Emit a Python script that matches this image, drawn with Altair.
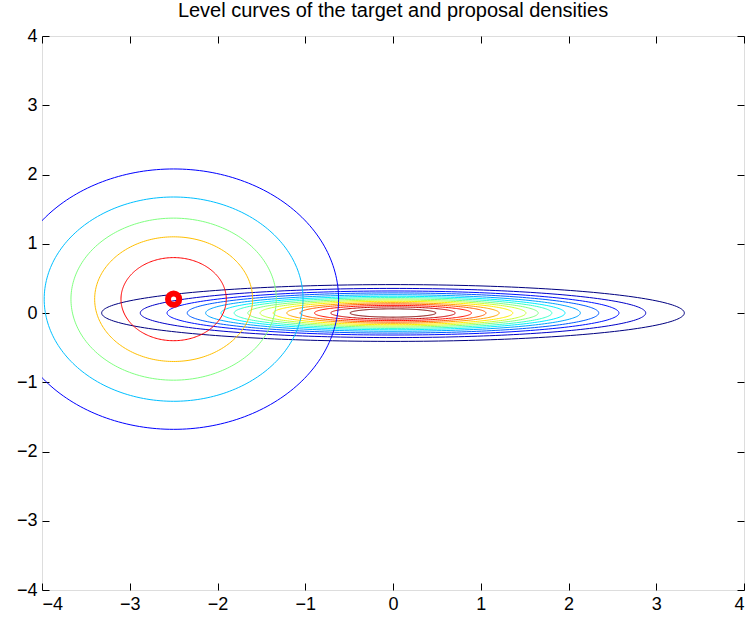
import altair as alt
import numpy as np
import pandas as pd

# ---- data ----
title_text = "Level curves of the target and proposal densities"
x_ticks = [-4, -3, -2, -1, 0, 1, 2, 3, 4]
y_ticks = [-4, -3, -2, -1, 0, 1, 2, 3, 4]

# proposal density (isotropic) level curves, outer -> inner
prop_cx, prop_cy = -2.5, 0.2
prop_radii = [1.88, 1.475, 1.17, 0.9, 0.6]
prop_cpos = [2 / 16, 5 / 16, 8 / 16, 11 / 16, 14 / 16]  # position in jet colormap

# target density level curves (elongated), outer -> inner
targ_cx, targ_cy = 0.0, 0.0
targ_halfw = [3.32, 2.88, 2.575, 2.345, 2.135, 1.96, 1.81, 1.655, 1.515,
              1.365, 1.21, 1.06, 0.895, 0.71, 0.49]
targ_halfh = [0.41, 0.355, 0.318, 0.29, 0.264, 0.242, 0.223, 0.204, 0.187,
              0.169, 0.149, 0.131, 0.11, 0.088, 0.06]

# current point marker
marker_x = [-2.5]
marker_y = [0.2]


def jet(t):
    r = min(max(1.5 - abs(4 * t - 3), 0), 1)
    g = min(max(1.5 - abs(4 * t - 2), 0), 1)
    b = min(max(1.5 - abs(4 * t - 1), 0), 1)
    return "#%02x%02x%02x" % (round(r * 255), round(g * 255), round(b * 255))


rows = []
npts = 241
theta = np.linspace(0, 2 * np.pi, npts)
cid = 0
n_t = len(targ_halfw)
for i, (a, b) in enumerate(zip(targ_halfw, targ_halfh)):
    col = jet(i / (n_t - 1))
    for k, t in enumerate(theta):
        rows.append({"cid": cid, "k": k, "x": targ_cx + a * np.cos(t),
                     "y": targ_cy + b * np.sin(t), "color": col})
    cid += 1
for r, cp in zip(prop_radii, prop_cpos):
    col = jet(cp)
    for k, t in enumerate(theta):
        rows.append({"cid": cid, "k": k, "x": prop_cx + r * np.cos(t),
                     "y": prop_cy + r * np.sin(t), "color": col})
    cid += 1
df = pd.DataFrame(rows)
mk = pd.DataFrame({"x": marker_x, "y": marker_y})

FONT = "Liberation Sans"
xs = alt.Scale(domain=[-4, 4], nice=False, zero=False)
ys = alt.Scale(domain=[-4, 4], nice=False, zero=False)

common_axis = dict(tickSize=7, offset=-7, domain=False, grid=False, title=None,
                   tickColor="black", labelColor="black", labelFont=FONT,
                   labelFontSize=18, tickWidth=1)

lines = alt.Chart(df).mark_line(strokeWidth=1, clip=True).encode(
    x=alt.X("x:Q", scale=xs, axis=alt.Axis(values=x_ticks, orient="bottom",
                                           labelPadding=5, **common_axis)),
    y=alt.Y("y:Q", scale=ys, axis=alt.Axis(values=y_ticks, orient="left",
                                           labelPadding=5, **common_axis)),
    color=alt.Color("color:N", scale=None),
    detail="cid:N",
    order="k:Q",
)

marker = alt.Chart(mk).mark_point(shape="circle", filled=False, color="#ff0000",
                                  strokeWidth=6, size=125, opacity=1).encode(
    x=alt.X("x:Q", scale=xs, axis=alt.Axis(values=x_ticks, orient="top",
                                           labels=False, **common_axis)),
    y=alt.Y("y:Q", scale=ys, axis=alt.Axis(values=y_ticks, orient="right",
                                           labels=False, **common_axis)),
)

chart = alt.layer(lines, marker).resolve_axis(
    x="independent", y="independent"
).properties(
    width=702,
    height=554,
    title=alt.TitleParams(title_text, font=FONT, fontSize=20, fontWeight="normal",
                          color="black", anchor="middle", offset=6),
    autosize=alt.AutoSizeParams(type="none"),
    padding={"left": 42, "top": 36, "right": 8, "bottom": 28},
).configure_view(stroke="black", strokeWidth=1).configure(background="white")

chart.save("out.html", embed_options={"renderer": "svg", "actions": False})
